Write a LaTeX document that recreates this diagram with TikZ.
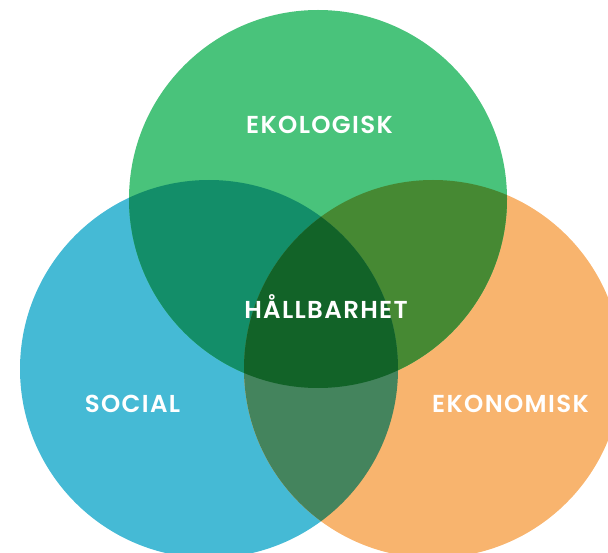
\documentclass[tikz,border=0pt]{standalone}
\usepackage{fontspec}
\setmainfont{Poppins}
\newfontfamily\labf{Poppins SemiBold}[LetterSpace=5.5]
\definecolor{cgreen}{HTML}{49C37B}
\definecolor{cblue}{HTML}{45BAD5}
\definecolor{corange}{HTML}{F8B46E}
\definecolor{cgb}{HTML}{138E69}
\definecolor{cgo}{HTML}{468933}
\definecolor{cbo}{HTML}{44845D}
\definecolor{call}{HTML}{126328}
\begin{document}
\begin{tikzpicture}[x=1pt,y=-1pt,
  lab/.style={text=white,font=\labf\fontsize{24.5}{29}\selectfont,inner sep=0pt,anchor=center}]
\useasboundingbox (0,0) rectangle (608,553);
\clip (0,0) rectangle (608,553);
\def\R{189}
\coordinate (G) at (318,199);
\coordinate (B) at (209,369);
\coordinate (O) at (433,369);
\fill[cblue] (B) circle[radius=\R];
\fill[corange] (O) circle[radius=\R];
\fill[cgreen] (G) circle[radius=\R];
\begin{scope}\clip (G) circle[radius=\R]; \fill[cgb] (B) circle[radius=\R];\end{scope}
\begin{scope}\clip (G) circle[radius=\R]; \fill[cgo] (O) circle[radius=\R];\end{scope}
\begin{scope}\clip (B) circle[radius=\R]; \fill[cbo] (O) circle[radius=\R];\end{scope}
\begin{scope}\clip (G) circle[radius=\R]; \clip (B) circle[radius=\R]; \fill[call] (O) circle[radius=\R];\end{scope}
\node[lab] (eko) at (319.5,125) {EKOLOGISK};
\node[lab] (hal) at (326,307) {HÅLLBARHET};
\node[lab] (soc) at (132.5,404) {SOCIAL};
\node[lab] (ekn) at (510.5,404) {EKONOMISK};
\end{tikzpicture}
\end{document}
